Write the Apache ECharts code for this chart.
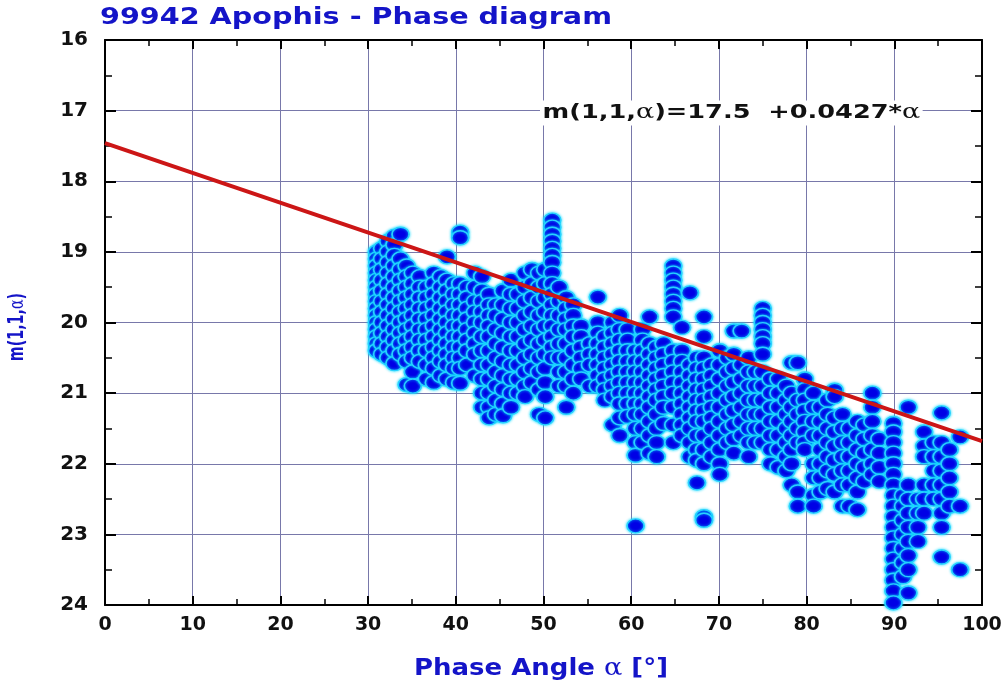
<!DOCTYPE html>
<html><head><meta charset="utf-8">
<script src="https://cdn.jsdelivr.net/npm/echarts@6/dist/echarts.min.js"></script>
<style>html,body{margin:0;padding:0;background:#fff}#c{width:1005px;height:683px}</style>
</head><body><div id="c"></div>
<script>
// Phase angle of each observation column (deg)
const colX = [31.0,31.6,32.3,33.0,33.7,34.4,35.1,35.9,36.7,37.5,38.3,39.0,39.8,40.5,41.3,42.2,43.0,43.8,44.6,45.4,
  46.3,47.1,47.9,48.7,49.5,50.2,51.0,51.8,52.6,53.4,54.3,55.3,56.2,57.0,57.9,58.7,59.6,60.5,61.3,62.1,
  62.9,63.7,64.8,65.8,66.7,67.5,68.3,69.2,70.1,71.0,71.7,72.6,73.4,74.2,75.0,75.9,76.8,77.7,78.3,79.0,
  79.8,80.8,81.6,82.4,83.2,84.1,84.9,85.8,86.6,87.5,88.3,89.9,91.0,91.6,92.7,93.4,94.5,95.4,96.3,97.5];
// Reduced magnitudes m(1,1,alpha) observed in each column
const colY = [
 [19.0,19.1,19.2,19.3,19.4,19.5,19.6,19.7,19.8,19.9,20.0,20.1,20.2,20.3,20.4],
 [18.95,19.1,19.25,19.4,19.55,19.7,19.85,20.0,20.15,20.3,20.45],
 [18.85,19.0,19.15,19.3,19.45,19.6,19.75,19.9,20.05,20.2,20.35,20.5],
 [18.78,18.9,19.05,19.2,19.35,19.5,19.65,19.8,19.95,20.1,20.25,20.4,20.58],
 [18.75,19.1,19.25,19.4,19.55,19.7,19.85,20.0,20.15,20.3,20.45],
 [19.2,19.35,19.5,19.65,19.8,19.95,20.1,20.25,20.4,20.55,20.88],
 [19.3,19.45,19.6,19.75,19.9,20.05,20.2,20.35,20.5,20.7,20.9],
 [19.35,19.5,19.65,19.8,19.95,20.1,20.25,20.4,20.55],
 [19.5,19.65,19.8,19.95,20.1,20.25,20.4,20.6,20.8],
 [19.3,19.45,19.6,19.75,19.9,20.05,20.2,20.35,20.5,20.65,20.85],
 [19.35,19.5,19.65,19.8,19.95,20.1,20.25,20.4,20.55,20.75],
 [19.07,19.4,19.55,19.7,19.85,20.0,20.15,20.3,20.45,20.6,20.8],
 [19.45,19.6,19.75,19.9,20.05,20.2,20.35,20.5,20.65,20.85],
 [18.72,18.8,19.45,19.6,19.75,19.9,20.05,20.2,20.35,20.5,20.65,20.86],
 [19.5,19.65,19.8,19.95,20.1,20.25,20.4,20.6],
 [19.3,19.5,19.7,19.85,20.0,20.15,20.3,20.45,20.75],
 [19.35,19.55,19.7,19.85,20.0,20.2,20.4,20.6,20.8,21.0,21.2],
 [19.6,19.75,19.9,20.05,20.2,20.4,20.6,20.8,21.0,21.2,21.35],
 [19.75,19.9,20.1,20.3,20.5,20.7,20.9,21.1,21.3],
 [19.55,19.75,19.95,20.15,20.35,20.55,20.75,20.95,21.15,21.32],
 [19.4,19.6,19.8,20.0,20.2,20.4,20.6,20.8,21.0,21.2],
 [19.6,19.8,20.0,20.2,20.4,20.6,20.8,21.0],
 [19.3,19.5,19.7,19.9,20.1,20.3,20.5,20.7,20.9,21.05],
 [19.25,19.45,19.65,19.85,20.05,20.25,20.45,20.65,20.85],
 [19.3,19.5,19.7,19.9,20.1,20.3,20.5,20.7,20.95,21.3],
 [19.25,19.45,19.65,19.85,20.05,20.25,20.45,20.65,20.85,21.05,21.35],
 [18.55,18.65,18.75,18.85,18.95,19.05,19.15,19.3,19.45,19.6,19.75,19.9,20.05,20.2,20.35,20.5],
 [19.5,19.7,19.9,20.1,20.3,20.5,20.7,20.9],
 [19.65,19.8,19.95,20.1,20.3,20.5,20.7,20.9,21.2],
 [19.75,19.9,20.05,20.2,20.4,20.6,20.8,21.0],
 [20.05,20.2,20.35,20.5,20.65,20.8],
 [20.3,20.45,20.6,20.9],
 [19.64,20.0,20.15,20.3,20.45,20.6,20.75,20.9],
 [20.2,20.35,20.5,20.65,20.8,20.95,21.1],
 [20.0,20.15,20.3,20.45,20.6,20.75,20.9,21.05,21.45],
 [19.9,20.1,20.25,20.4,20.55,20.7,20.85,21.0,21.15,21.35,21.6],
 [20.1,20.25,20.4,20.55,20.7,20.85,21.0,21.15,21.33],
 [20.4,20.55,20.7,20.85,21.0,21.15,21.3,21.5,21.7,21.88,22.88],
 [20.1,20.25,20.4,20.55,20.7,20.85,21.0,21.15,21.3,21.5,21.7],
 [19.92,20.3,20.45,20.6,20.75,20.9,21.05,21.2,21.4,21.6,21.85],
 [20.35,20.5,20.65,20.8,20.95,21.1,21.3,21.5,21.7,21.9],
 [20.3,20.45,20.6,20.75,20.9,21.05,21.2,21.43],
 [19.2,19.3,19.4,19.5,19.6,19.7,19.8,19.92,20.4,20.55,20.7,20.85,21.0,21.2,21.45,21.7],
 [20.07,20.4,20.55,20.7,20.85,21.0,21.15,21.3,21.45,21.6],
 [19.58,20.6,20.75,20.9,21.05,21.2,21.35,21.5,21.7,21.9],
 [20.5,20.65,20.8,20.95,21.1,21.25,21.4,21.6,21.8,21.95,22.27],
 [19.92,20.2,20.5,20.65,20.8,20.95,21.1,21.25,21.4,21.6,21.8,22.0,22.75,22.8],
 [20.6,20.75,20.9,21.05,21.2,21.35,21.5,21.7,21.9],
 [20.4,20.6,20.8,21.0,21.2,21.4,21.6,21.8,22.0,22.15],
 [20.5,20.7,20.9,21.1,21.3,21.5,21.7],
 [20.12,20.45,20.65,20.85,21.05,21.25,21.45,21.65,21.85],
 [20.12,20.6,20.8,21.0,21.2,21.4,21.6],
 [20.5,20.7,20.9,21.1,21.3,21.5,21.7,21.9],
 [20.7,20.9,21.1,21.3,21.5,21.7],
 [19.8,19.9,20.0,20.1,20.2,20.3,20.45,20.7,20.9,21.1,21.3,21.5,21.7],
 [20.8,21.0,21.2,21.4,21.6,21.8,22.0],
 [20.8,21.0,21.2,21.4,21.6,21.8,22.05],
 [20.9,21.1,21.3,21.5,21.7,21.9,22.1],
 [20.57,21.0,21.2,21.4,21.6,21.8,22.0,22.3],
 [20.57,21.1,21.3,21.5,21.7,22.4,22.6],
 [20.8,20.95,21.1,21.25,21.4,21.55,21.7,21.8],
 [21.0,21.2,21.4,21.6,22.0,22.2,22.45,22.6],
 [21.2,21.4,21.6,21.8,22.0,22.2,22.4],
 [21.1,21.3,21.5,21.7,21.9,22.1,22.35],
 [20.96,21.05,21.35,21.55,21.75,21.95,22.15,22.4],
 [21.3,21.5,21.7,21.9,22.1,22.3,22.6],
 [21.5,21.7,21.9,22.1,22.3,22.6],
 [21.4,21.6,21.8,22.0,22.2,22.4,22.65],
 [21.45,21.65,21.85,22.05,22.25],
 [21.0,21.2,21.4,21.6,21.8,22.0,22.15],
 [21.65,21.85,22.05,22.25],
 [21.43,21.55,21.7,21.85,22.0,22.15,22.3,22.45,22.6,22.75,22.9,23.05,23.2,23.35,23.5,23.65,23.8,23.97],
 [22.45,22.6,22.8,23.0,23.2,23.4,23.6],
 [21.2,22.3,22.5,22.7,22.9,23.1,23.3,23.5,23.83],
 [22.5,22.7,22.9,23.1],
 [21.55,21.75,21.9,22.3,22.5,22.7],
 [21.7,21.9,22.1,22.3,22.5],
 [21.28,21.7,21.9,22.1,22.3,22.5,22.7,22.9,23.32],
 [21.8,22.0,22.2,22.4,22.6],
 [21.62,22.6,23.5]
];
// Linear fit m(1,1,alpha) = 17.5 + 0.0427*alpha, as drawn
const fitLine = [[0, 17.46], [100, 21.68]];
const titleText = '99942 Apophis - Phase diagram';
const fitLabel = ['m(1,1,', 'α', ')=17.5  +0.0427*', 'α'];
const xName = ['Phase Angle ', 'α', ' [°]'];
const yName = ['m(1,1,', 'α', ')'];

const points = [];
colX.forEach((x, i) => colY[i].forEach(y => points.push([x, y])));

const FB = 'DejaVu Sans, Liberation Sans, sans-serif';
const FS = 'DejaVu Serif, serif';
const blue = '#1414c8';
const gridCol = '#7878aa';
const chart = echarts.init(document.getElementById('c'), null, {renderer: 'canvas'});

const baseX = {
  type: 'value', min: 0, max: 100, interval: 10,
  axisLine: {show: true, onZero: false, lineStyle: {color: '#000', width: 2}},
  axisTick: {show: true, inside: true, length: 9, lineStyle: {color: '#000', width: 2}},
  minorTick: {show: true, splitNumber: 2, length: 6, lineStyle: {color: '#000', width: 1.5}}
};
const baseY = {
  type: 'value', min: 16, max: 24, interval: 1, inverse: true,
  axisLine: {show: true, onZero: false, lineStyle: {color: '#000', width: 2}},
  axisTick: {show: true, inside: true, length: 11, lineStyle: {color: '#000', width: 2}},
  minorTick: {show: true, splitNumber: 2, length: 7, lineStyle: {color: '#000', width: 1.5}}
};

chart.setOption({
  backgroundColor: '#fff',
  animation: false,
  grid: {left: 105, right: 23, top: 40, bottom: 78},
  xAxis: [
    Object.assign({}, baseX, {
      position: 'bottom',
      axisLabel: {color: '#111', fontFamily: FB, fontWeight: 'bold', fontSize: 19, margin: 11},
      splitLine: {show: true, lineStyle: {color: gridCol, width: 1}}
    }),
    Object.assign({}, baseX, {
      position: 'top', axisLabel: {show: false}, splitLine: {show: false}
    })
  ],
  yAxis: [
    Object.assign({}, baseY, {
      position: 'left',
      axisLabel: {color: '#111', fontFamily: FB, fontWeight: 'bold', fontSize: 20, margin: 17},
      splitLine: {show: true, lineStyle: {color: gridCol, width: 1}}
    }),
    Object.assign({}, baseY, {
      position: 'right', axisLabel: {show: false}, splitLine: {show: false}
    })
  ],
  series: [
    {
      type: 'scatter', data: points, symbol: 'circle', symbolSize: [17, 14],
      itemStyle: {color: '#0000e6', borderColor: '#28d2ff', borderWidth: 1.5,
        shadowBlur: 3, shadowColor: 'rgba(0,220,255,0.9)', opacity: 1},
      z: 2
    },
    {
      type: 'line', data: fitLine, symbol: 'none', silent: true,
      lineStyle: {color: '#cc1616', width: 4}, z: 3
    }
  ],
  graphic: [
    { // title
      type: 'text', x: 100, y: 18, scaleX: 1.245, z: 10,
      style: {
        text: titleText, fill: blue, font: 'bold 23px ' + FB,
        align: 'left', verticalAlign: 'middle', textAlign: 'left', textVerticalAlign: 'middle'
      }
    },
    { // fit annotation
      type: 'text', x: 540, y: 113, scaleX: 1.28, z: 10,
      style: {
        text: '{a|' + fitLabel[0] + '}{g|' + fitLabel[1] + '}{a|' + fitLabel[2] + '}{g|' + fitLabel[3] + '}',
        align: 'left', verticalAlign: 'middle', textAlign: 'left', textVerticalAlign: 'middle',
        backgroundColor: '#fff', padding: [2, 2],
        rich: {
          a: {fill: '#111', fontFamily: FB, fontWeight: 'bold', fontSize: 20},
          g: {fill: '#111', fontFamily: FS, fontSize: 21}
        }
      }
    },
    { // x axis name
      type: 'text', x: 541, y: 669, scaleX: 1.13, z: 10,
      style: {
        text: '{a|' + xName[0] + '}{g|' + xName[1] + '}{a|' + xName[2] + '}',
        align: 'center', verticalAlign: 'middle', textAlign: 'center', textVerticalAlign: 'middle',
        rich: {
          a: {fill: blue, fontFamily: FB, fontWeight: 'bold', fontSize: 23},
          g: {fill: blue, fontFamily: FS, fontSize: 24}
        }
      }
    },
    { // y axis name
      type: 'text', x: 18, y: 327, rotation: Math.PI / 2, scaleX: 0.68, z: 10,
      style: {
        text: '{a|' + yName[0] + '}{g|' + yName[1] + '}{a|' + yName[2] + '}',
        align: 'center', verticalAlign: 'middle', textAlign: 'center', textVerticalAlign: 'middle',
        rich: {
          a: {fill: blue, fontFamily: FB, fontWeight: 'bold', fontSize: 21},
          g: {fill: blue, fontFamily: FS, fontSize: 21}
        }
      }
    }
  ]
});
</script></body></html>
